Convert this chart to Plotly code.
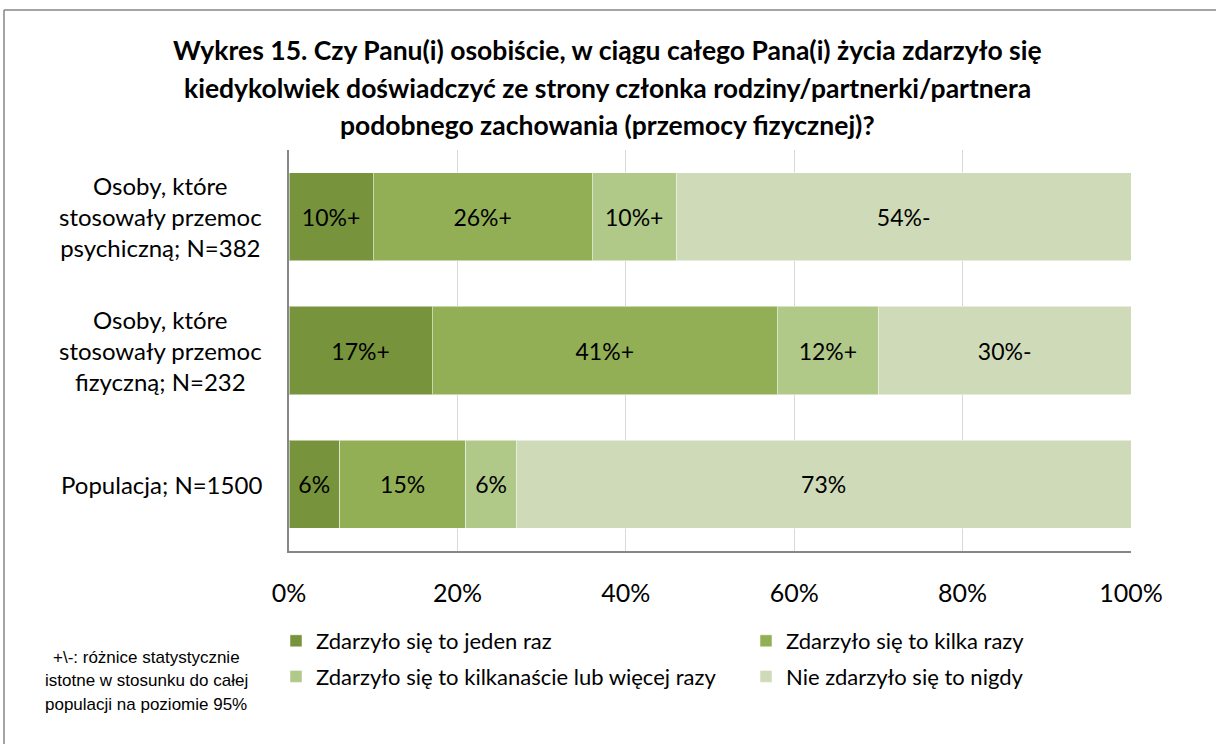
import plotly.graph_objects as go

categories = ["Osoby, które<br>stosowały przemoc<br>psychiczną; N=382",
              "Osoby, które<br>stosowały przemoc<br>fizyczną; N=232",
              "Populacja; N=1500"]
series_names = ["Zdarzyło się to jeden raz",
                "Zdarzyło się to kilka razy",
                "Zdarzyło się to kilkanaście lub więcej razy",
                "Nie zdarzyło się to nigdy"]
jeden_raz = [10, 17, 6]
kilka_razy = [26, 41, 15]
kilkanascie = [10, 12, 6]
nigdy = [54, 30, 73]
# significance markers next to labels
sig_jeden = ["+", "+", ""]
sig_kilka = ["+", "+", ""]
sig_kilkanascie = ["+", "+", ""]
sig_nigdy = ["-", "-", ""]
colors = ["#77933C", "#93AF55", "#B0C888", "#CFDBB8"]
x_ticks = [0, 20, 40, 60, 80, 100]
x_tick_labels = ["0%", "20%", "40%", "60%", "80%", "100%"]

title_lines = ["Wykres 15. Czy Panu(i) osobiście, w ciągu całego Pana(i) życia zdarzyło się",
               "kiedykolwiek doświadczyć ze strony członka rodziny/partnerki/partnera",
               "podobnego zachowania (przemocy fizycznej)?"]
note_lines = ["+\\-: różnice statystycznie",
              "istotne w stosunku do całej",
              "populacji na poziomie 95%"]

W, H = 1216, 744
L, R, T, B = 289, 85, 150, 193
pw, ph = W - L - R, H - T - B


def px_x(p):
    return (p - L) / pw


def px_y(p):
    return (H - B - p) / ph


FONT = "Lato"
values = [jeden_raz, kilka_razy, kilkanascie, nigdy]
sigs = [sig_jeden, sig_kilka, sig_kilkanascie, sig_nigdy]
legends = ["legend", "legend2", "legend", "legend2"]

fig = go.Figure()
for i in range(4):
    fig.add_trace(go.Bar(
        name=series_names[i], y=categories, x=values[i], orientation="h",
        width=0.66,
        marker=dict(color=colors[i], line=dict(color="rgba(255,255,255,0.5)", width=1)),
        text=[f"{v}%{s}" for v, s in zip(values[i], sigs[i])],
        textposition="inside", insidetextanchor="middle",
        textfont=dict(family=FONT, size=23, color="black"),
        legend=legends[i], legendgroup=str(i),
        hoverinfo="skip"))

fig.update_layout(
    barmode="stack",
    width=W, height=H,
    margin=dict(l=L, r=R, t=T, b=B),
    plot_bgcolor="white", paper_bgcolor="white",
    font=dict(family=FONT, color="black"),
    legend=dict(x=px_x(276), y=px_y(620), xanchor="left", yanchor="top",
                font=dict(family=FONT, size=22), traceorder="grouped",
                tracegroupgap=4, bgcolor="rgba(0,0,0,0)"),
    legend2=dict(x=px_x(746), y=px_y(620), xanchor="left", yanchor="top",
                 font=dict(family=FONT, size=22), traceorder="grouped",
                 tracegroupgap=4, bgcolor="rgba(0,0,0,0)"),
    showlegend=True,
)

fig.update_xaxes(range=[0, 100], tickvals=x_ticks, ticktext=x_tick_labels,
                 showgrid=True, gridcolor="#D9D9D9", gridwidth=1,
                 showline=True, linecolor="#868686", linewidth=2,
                 ticks="outside", ticklen=0, ticklabelstandoff=19,
                 tickfont=dict(family=FONT, size=25, color="black"),
                 zeroline=False, fixedrange=True)
fig.update_yaxes(autorange="reversed", showticklabels=False,
                 showline=True, linecolor="#868686", linewidth=2,
                 showgrid=False, fixedrange=True)

# category labels, centred line by line
for c in categories:
    fig.add_annotation(x=px_x(264), y=c, xref="paper", yref="y", text=c,
                       showarrow=False, xanchor="right", yanchor="middle", align="center",
                       font=dict(family=FONT, size=24, color="black"))

# title
for i, line in enumerate(title_lines):
    fig.add_annotation(x=px_x(607), y=px_y(50 + i * 37.5), xref="paper", yref="paper",
                       text="<b>" + line + "</b>", showarrow=False,
                       xanchor="center", yanchor="middle",
                       font=dict(family=FONT, size=26.5, color="black"))

# footnote
for i, line in enumerate(note_lines):
    fig.add_annotation(x=px_x(146), y=px_y(657 + i * 23.5), xref="paper", yref="paper",
                       text=line, showarrow=False, xanchor="center", yanchor="middle",
                       font=dict(family="Liberation Sans", size=17, color="black"))

# outer frame: only the top and left edges are visible
frame = dict(color="#868686", width=1.5)
fig.add_shape(type="line", xref="paper", yref="paper",
              x0=px_x(4), x1=px_x(1216), y0=px_y(10), y1=px_y(10), line=frame, layer="below")
fig.add_shape(type="line", xref="paper", yref="paper",
              x0=px_x(4), x1=px_x(4), y0=px_y(10), y1=px_y(744), line=frame, layer="below")

fig.write_html("out.html", config={"displayModeBar": False},
               post_script="document.body.style.margin='0'; document.body.style.overflow='hidden';")
